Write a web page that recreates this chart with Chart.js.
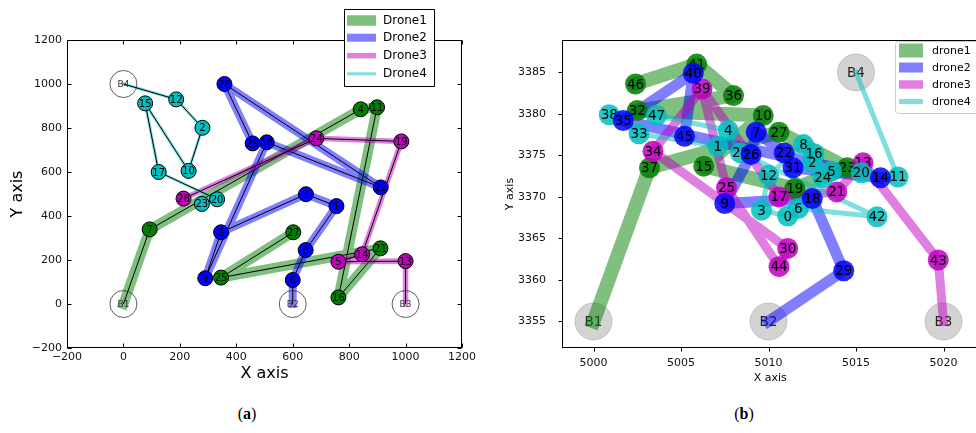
<!DOCTYPE html>
<html>
<head>
<meta charset="utf-8">
<script src="https://cdn.jsdelivr.net/npm/chart.js@4.4.0/dist/chart.umd.min.js"></script>
<style>
  html, body { margin: 0; padding: 0; background: #fff; overflow: hidden; width: 976px; height: 433px; }
  #wrapA { position: absolute; left: 0; top: 0; width: 490px; height: 395px; }
  #wrapB { position: absolute; left: 490px; top: 0; width: 508px; height: 395px; }
  .cap { position: absolute; top: 406px; font-family: 'Liberation Serif', 'DejaVu Serif', serif;
         font-size: 16px; line-height: 16px; color: #000; transform: translateX(-50%); white-space: nowrap; }
</style>
</head>
<body>
<div id="wrapA"><canvas id="chartA" width="490" height="395"></canvas></div>
<div id="wrapB"><canvas id="chartB" width="508" height="395"></canvas></div>
<div class="cap" style="left:247px">(<b>a</b>)</div>
<div class="cap" style="left:744px">(<b>b</b>)</div>
<script>
// ---------- Panel (a): planar layout ----------
// stations and stops as [label, x, y]
const aBases  = [['B1', 0, 0], ['B2', 600, 0], ['B3', 1000, 0], ['B4', 0, 1000]];
const aDrone1 = [['7', 93, 339], ['4', 841, 885], ['11', 899, 894], ['16', 762, 30], ['21', 911, 253], ['25', 346, 120], ['27', 602, 326]];
const aDrone2 = [['6', 600, 109], ['0', 646, 245], ['1', 755, 445], ['3', 647, 499], ['8', 346, 326], ['9', 290, 117], ['18', 508, 735], ['22', 912, 530], ['26', 358, 1000], ['29', 458, 730]];
const aDrone3 = [['13', 1000, 195], ['5', 762, 192], ['14', 846, 226], ['19', 985, 739], ['24', 684, 753], ['28', 213, 479]];
const aDrone4 = [['12', 187, 930], ['2', 280, 801], ['10', 231, 605], ['15', 77, 912], ['17', 125, 600], ['20', 332, 476], ['23', 278, 455]];
// visiting order of every drone
const aRoute1 = ['B1', '7', '4', '11', '16', '21', '25', '27'];
const aRoute2 = ['B2', '6', '0', '1', '3', '8', '9', '18', '22', '26', '29'];
const aRoute3 = ['B3', '13', '5', '14', '19', '24', '28'];
const aRoute4 = ['B4', '12', '2', '10', '15', '17', '20', '23'];
const aTicksX = [-200, 0, 200, 400, 600, 800, 1000, 1200];
const aTicksY = [-200, 0, 200, 400, 600, 800, 1000, 1200];
const aNames  = ['Drone1', 'Drone2', 'Drone3', 'Drone4'];

// ---------- Panel (b): geographic layout ----------
const bBases  = [['B1', 5000, 3355], ['B2', 5010, 3355], ['B3', 5020, 3355], ['B4', 5015, 3385]];
const bDrone1 = [['37', 5003.2, 3373.5], ['15', 5006.3, 3373.7], ['19', 5011.5, 3371.0], ['23', 5014.5, 3373.5], ['27', 5010.6, 3377.8],
                 ['10', 5009.7, 3379.8], ['32', 5002.5, 3380.4], ['36', 5008.0, 3382.2], ['41', 5005.9, 3386.0], ['46', 5002.4, 3383.6]];
const bDrone2 = [['29', 5014.3, 3361.1], ['18', 5012.5, 3369.8], ['9', 5007.5, 3369.2], ['26', 5009.0, 3375.1], ['7', 5009.3, 3377.8],
                 ['22', 5010.9, 3375.3], ['31', 5011.4, 3373.5], ['14', 5016.4, 3372.3], ['35', 5001.7, 3379.2], ['40', 5005.7, 3384.9], ['45', 5005.2, 3377.3]];
const bDrone3 = [['43', 5019.7, 3362.4], ['13', 5015.4, 3374.1], ['21', 5013.9, 3370.6], ['17', 5010.6, 3370.0], ['39', 5006.2, 3383.0],
                 ['34', 5003.4, 3375.5], ['30', 5011.1, 3363.8], ['44', 5010.6, 3361.6], ['25', 5007.6, 3371.1]];
const bDrone4 = [['11', 5017.4, 3372.4], ['20', 5015.3, 3372.9], ['5', 5013.6, 3373.1], ['24', 5013.1, 3372.3], ['2', 5012.5, 3374.1],
                 ['16', 5012.6, 3375.2], ['8', 5012.0, 3376.3], ['12', 5010.0, 3372.6], ['3', 5009.6, 3368.4], ['0', 5011.1, 3367.7],
                 ['6', 5011.7, 3368.6], ['42', 5016.2, 3367.6], ['28', 5008.4, 3375.3], ['4', 5007.7, 3378.0], ['47', 5003.6, 3379.8],
                 ['38', 5000.9, 3379.9], ['33', 5002.6, 3377.6], ['1', 5007.1, 3376.1]];
const bRoute1 = ['B1', '37', '27', '23', '19', '15', '10', '32', '36', '41', '46'];
const bRoute2 = ['B2', '29', '18', '9', '26', '7', '22', '31', '14', '35', '40', '45'];
const bRoute3 = ['B3', '43', '13', '21', '17', '39', '34', '30', '44', '25', '39'];
const bRoute4 = ['B4', '11', '20', '5', '24', '2', '16', '8', '12', '3', '0', '6', '42', '28', '4', '47', '38', '33', '1'];
const bTicksX = [5000, 5005, 5010, 5015, 5020];
const bTicksY = [3355, 3360, 3365, 3370, 3375, 3380, 3385];
const bNames  = ['drone1', 'drone2', 'drone3', 'drone4'];

// ---------- helpers ----------
const FONT = "'DejaVu Sans', 'Liberation Sans', sans-serif";

function pick(list, id) {
  const r = list.find(n => n[0] === id);
  return { x: r[1], y: r[2] };
}
function routePoints(route, nodes, bases) {
  return route.map(id => pick(id.startsWith('B') ? bases : nodes, id));
}
function toPoints(list) { return list.map(n => ({ x: n[1], y: n[2] })); }

function buildDatasets(panel, st) {
  const list = [];
  const bases = {
    data: toPoints(panel.bases), showLine: false,
    pointRadius: st.baseRadius, pointHoverRadius: st.baseRadius,
    pointBackgroundColor: st.baseFill, pointBorderColor: st.baseBorder, pointBorderWidth: st.baseBorderWidth,
    nodeText: panel.bases.map(b => b[0]), textFont: st.baseFont, textColor: st.baseTextColor
  };
  if (st.basesUnder) list.push(bases);
  panel.drones.forEach((d, i) => {
    const pts = routePoints(d.route, d.nodes, panel.bases);
    list.push({
      data: pts, showLine: true, fill: false, tension: 0,
      borderColor: `rgba(${st.colors[i]},${st.bandAlpha})`, borderWidth: st.bandWidths[i],
      borderCapStyle: 'square', borderJoinStyle: 'round', pointRadius: 0, pointHoverRadius: 0
    });
    if (st.centerLine) {
      list.push({
        data: pts, showLine: true, fill: false, tension: 0,
        borderColor: '#000', borderWidth: 1, pointRadius: 0, pointHoverRadius: 0
      });
    }
  });
  if (!st.basesUnder) list.push(bases);
  st.nodeOrder.forEach(i => {
    const d = panel.drones[i];
    list.push({
      data: toPoints(d.nodes), showLine: false,
      pointRadius: st.nodeRadius, pointHoverRadius: st.nodeRadius,
      pointBackgroundColor: `rgba(${st.colors[i]},${st.nodeAlpha})`,
      pointBorderColor: st.nodeBorder, pointBorderWidth: st.nodeBorderWidth,
      nodeText: d.nodes.map(n => n[0]), textFont: st.nodeFont, textColor: '#000'
    });
  });
  list.forEach((ds, k) => { ds.order = list.length - k; });
  return list;
}

// numbers written inside the markers
const nodeLabels = {
  id: 'nodeLabels',
  afterDatasetDraw(chart, args) {
    const ds = chart.data.datasets[args.index];
    if (!ds.nodeText) return;
    const ctx = chart.ctx;
    ctx.save();
    ctx.font = ds.textFont;
    ctx.fillStyle = ds.textColor;
    ctx.textAlign = 'center';
    ctx.textBaseline = 'middle';
    args.meta.data.forEach((el, i) => ctx.fillText(ds.nodeText[i], el.x, el.y + 1));
    ctx.restore();
  }
};

// axes box with tick marks
const frame = {
  id: 'frame',
  afterDatasetsDraw(chart, args, o) {
    const { ctx, chartArea: a, scales: { x, y } } = chart;
    ctx.save();
    ctx.strokeStyle = '#000';
    ctx.lineWidth = 1;
    const L = Math.round(a.left) + 0.5, R = Math.round(a.right) - 0.5;
    const T = Math.round(a.top) + 0.5, B = Math.round(a.bottom) - 0.5;
    ctx.strokeRect(L, T, R - L, B - T);
    ctx.beginPath();
    x.ticks.forEach(t => {
      const px = Math.round(x.getPixelForValue(t.value)) + 0.5;
      if (o.inward) {
        ctx.moveTo(px, B); ctx.lineTo(px, B - o.len);
        ctx.moveTo(px, T); ctx.lineTo(px, T + o.len);
      } else {
        ctx.moveTo(px, B); ctx.lineTo(px, B + o.len);
      }
    });
    y.ticks.forEach(t => {
      const py = Math.round(y.getPixelForValue(t.value)) + 0.5;
      if (o.inward) {
        ctx.moveTo(L, py); ctx.lineTo(L + o.len, py);
        ctx.moveTo(R, py); ctx.lineTo(R - o.len, py);
      } else {
        ctx.moveTo(L, py); ctx.lineTo(L - o.len, py);
      }
    });
    ctx.stroke();
    ctx.restore();
  }
};

// legend box
const keyBox = {
  id: 'keyBox',
  afterDraw(chart, args, o) {
    const ctx = chart.ctx;
    ctx.save();
    ctx.beginPath();
    if (o.radius) ctx.roundRect(o.x + 0.5, o.y + 0.5, o.w, o.h, o.radius);
    else ctx.rect(o.x + 0.5, o.y + 0.5, o.w, o.h);
    ctx.fillStyle = o.fill;
    ctx.fill();
    ctx.strokeStyle = o.stroke;
    ctx.lineWidth = 1;
    ctx.stroke();
    ctx.font = o.font;
    ctx.textBaseline = 'middle';
    ctx.textAlign = 'left';
    o.names.forEach((name, i) => {
      const h = o.sizes[i];
      ctx.fillStyle = `rgba(${o.colors[i]},0.5)`;
      ctx.fillRect(o.patchX, o.rows[i] - h / 2, o.patchW, h);
      ctx.fillStyle = '#000';
      ctx.fillText(name, o.textX, o.rows[i] + 0.5);
    });
    ctx.restore();
  }
};

function axis(min, max, ticks, size, titleText, titleFont, titlePad, tickFont, tickPad, isX, fmt) {
  return {
    type: 'linear', min, max,
    afterBuildTicks: s => { s.ticks = ticks.map(v => ({ value: v })); },
    afterFit: s => { if (isX) s.height = size; else s.width = size; },
    grid: { display: false, drawTicks: false },
    border: { display: false },
    ticks: { font: { family: FONT, size: tickFont }, color: '#111', padding: tickPad,
             autoSkip: false, maxRotation: 0, callback: v => fmt(v) },
    title: { display: true, text: titleText, color: '#000',
             font: { family: FONT, size: titleFont }, padding: titlePad }
  };
}

const minusFmt = v => (v < 0 ? '\u2212' + Math.abs(v) : String(v));
const plainFmt = v => String(v);

const colA = ['0,128,0', '0,0,255', '191,0,191', '0,191,191'];

new Chart(document.getElementById('chartA'), {
  type: 'scatter',
  data: {
    datasets: buildDatasets(
      { bases: aBases, drones: [
        { nodes: aDrone1, route: aRoute1 }, { nodes: aDrone2, route: aRoute2 },
        { nodes: aDrone3, route: aRoute3 }, { nodes: aDrone4, route: aRoute4 }] },
      { colors: colA, bandWidths: [10, 8, 5.5, 3], bandAlpha: 0.5, centerLine: true,
        nodeRadius: 7.5, nodeAlpha: 1, nodeBorder: '#000', nodeBorderWidth: 1,
        nodeFont: `10px ${FONT}`, nodeOrder: [0, 1, 2, 3],
        basesUnder: false, baseRadius: 13.5, baseFill: 'rgba(255,255,255,0)',
        baseBorder: 'rgba(40,40,40,0.75)', baseBorderWidth: 1,
        baseFont: `9px ${FONT}`, baseTextColor: '#333' })
  },
  options: {
    responsive: false, animation: false, events: [],
    layout: { padding: { top: 40, right: 28, left: 0, bottom: 0 } },
    plugins: {
      legend: { display: false }, tooltip: { enabled: false },
      frame: { inward: true, len: 4 },
      keyBox: { x: 344, y: 9, w: 90, h: 77, radius: 0, fill: '#fff', stroke: '#000',
                font: `12px ${FONT}`, names: aNames, colors: colA,
                rows: [20.5, 37.7, 55.7, 73.8], sizes: [10.5, 8, 5.5, 3],
                patchX: 347, patchW: 29, textX: 383 }
    },
    scales: {
      x: axis(-200, 1200, aTicksX, 47, 'X axis', 16, { top: 0, bottom: 12 }, 11, 3, true, minusFmt),
      y: axis(-200, 1200, aTicksY, 67, 'Y axis', 16, { top: 8, bottom: 0 }, 11, 5, false, minusFmt)
    }
  },
  plugins: [nodeLabels, frame, keyBox]
});

new Chart(document.getElementById('chartB'), {
  type: 'scatter',
  data: {
    datasets: buildDatasets(
      { bases: bBases, drones: [
        { nodes: bDrone1, route: bRoute1 }, { nodes: bDrone2, route: bRoute2 },
        { nodes: bDrone3, route: bRoute3 }, { nodes: bDrone4, route: bRoute4 }] },
      { colors: colA, bandWidths: [14, 11, 9, 5], bandAlpha: 0.5, centerLine: false,
        nodeRadius: 10.5, nodeAlpha: 0.85, nodeBorder: 'rgba(0,0,0,0)', nodeBorderWidth: 0,
        nodeFont: `13.5px ${FONT}`, nodeOrder: [0, 2, 3, 1],
        basesUnder: true, baseRadius: 18.5, baseFill: 'rgba(128,128,128,0.35)',
        baseBorder: 'rgba(128,128,128,0.35)', baseBorderWidth: 1,
        baseFont: `13.5px ${FONT}`, baseTextColor: '#222' })
  },
  options: {
    responsive: false, animation: false, events: [],
    layout: { padding: { top: 40, right: 12, left: 0, bottom: 0 } },
    plugins: {
      legend: { display: false }, tooltip: { enabled: false },
      frame: { inward: false, len: 4 },
      keyBox: { x: 405, y: 41, w: 100, h: 72, radius: 3, fill: 'rgba(255,255,255,0.8)', stroke: '#ccc',
                font: `11px ${FONT}`, names: bNames, colors: colA,
                rows: [50.5, 67.5, 84.5, 101.5], sizes: [14, 10, 8.5, 5],
                patchX: 409, patchW: 24, textX: 442 }
    },
    scales: {
      x: axis(4998.2, 5022, bTicksX, 47, 'X axis', 11, { top: 0, bottom: 10 }, 11, 9, true, plainFmt),
      y: axis(3351.8, 3388.9, bTicksY, 72, 'Y axis', 11, { top: 14, bottom: 0 }, 11, 16, false, plainFmt)
    }
  },
  plugins: [nodeLabels, frame, keyBox]
});
</script>
</body>
</html>
